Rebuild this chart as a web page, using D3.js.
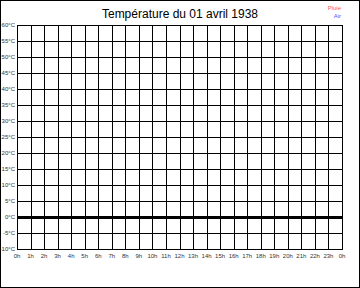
<!DOCTYPE html>
<html>
<head>
<meta charset="utf-8">
<script src="https://cdn.jsdelivr.net/npm/d3@7"></script>
<style>
  body { margin: 0; background: #fff; }
  svg { display: block; font-family: "Liberation Sans", Arial, sans-serif; }
</style>
</head>
<body>
<div id="chart"></div>
<script>
// chart data
const title = 'Température du 01 avril 1938';
const hourLabels = ['0h','1h','2h','3h','4h','5h','6h','7h','8h','9h','10h','11h','12h',
                    '13h','14h','15h','16h','17h','18h','19h','20h','21h','22h','23h','0h'];
const tempTicks = [-10, -5, 0, 5, 10, 15, 20, 25, 30, 35, 40, 45, 50, 55, 60];
const legendNames = ['Pluie', 'Air'];
const legendColors = ['#ff5555', '#5555ff'];

let width = 360,
    height = 288,
    margin = {top: 25, left: 17, bottom: 39, right: 18};

let svg = d3.select('#chart')
  .append('svg')
  .attr('width', width)
  .attr('height', height);

// outer frame
svg.append('rect')
  .attr('x', 0.5)
  .attr('y', 0.5)
  .attr('width', width - 1)
  .attr('height', height - 1)
  .attr('fill', '#fff')
  .attr('stroke', '#000');

let x = d3.scaleLinear()
  .domain([0, hourLabels.length - 1])
  .range([margin.left, width - margin.right]);

let y = d3.scaleLinear()
  .domain([d3.min(tempTicks), d3.max(tempTicks)])
  .range([height - margin.bottom, margin.top]);

let grid = svg.append('g')
  .attr('shape-rendering', 'crispEdges')
  .attr('stroke', '#000')
  .attr('stroke-width', 1);

grid.selectAll('line.v')
  .data(hourLabels)
  .enter()
  .append('line')
  .attr('class', 'v')
  .attr('x1', (d, i) => Math.round(x(i)) + 0.5)
  .attr('x2', (d, i) => Math.round(x(i)) + 0.5)
  .attr('y1', y(d3.max(tempTicks)))
  .attr('y2', y(d3.min(tempTicks)));

grid.selectAll('line.h')
  .data(tempTicks)
  .enter()
  .append('line')
  .attr('class', 'h')
  .attr('x1', x(0))
  .attr('x2', x(hourLabels.length - 1) + 1)
  .attr('y1', d => Math.round(y(d)) + 0.5)
  .attr('y2', d => Math.round(y(d)) + 0.5)
  .attr('stroke-width', d => d === 0 ? 3 : 1);

// y labels
svg.append('g')
  .selectAll('text')
  .data(tempTicks)
  .enter()
  .append('text')
  .attr('x', margin.left - 2)
  .attr('y', d => y(d) + 2)
  .attr('text-anchor', 'end')
  .attr('font-size', 6)
  .attr('fill', '#333')
  .text(d => d + '°C');

// x labels
svg.append('g')
  .selectAll('text')
  .data(hourLabels)
  .enter()
  .append('text')
  .attr('x', (d, i) => x(i))
  .attr('y', y(d3.min(tempTicks)) + 9)
  .attr('text-anchor', 'middle')
  .attr('font-size', 6)
  .attr('fill', '#333')
  .text(d => d);

// title
svg.append('text')
  .attr('x', width / 2)
  .attr('y', 18)
  .attr('text-anchor', 'middle')
  .attr('font-size', 12)
  .attr('fill', '#000')
  .text(title);

// legend
svg.append('g')
  .selectAll('text')
  .data(legendNames)
  .enter()
  .append('text')
  .attr('x', 341)
  .attr('y', (d, i) => 10 + i * 8)
  .attr('text-anchor', 'end')
  .attr('font-size', 6)
  .attr('fill', (d, i) => legendColors[i])
  .text(d => d);
</script>
</body>
</html>
